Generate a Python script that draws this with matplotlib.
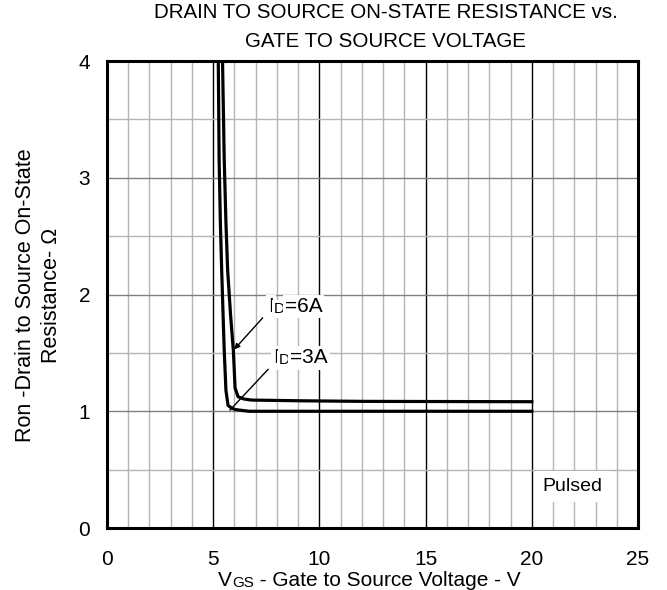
import matplotlib
matplotlib.use("Agg")
import matplotlib.pyplot as plt
from matplotlib.ticker import MultipleLocator

plt.rcParams["font.family"] = ["Liberation Sans", "DejaVu Sans"]

vgs_3a = [5.24, 5.28, 5.34, 5.40, 5.47, 5.52, 5.60, 5.70, 5.85, 6.03, 6.7, 8.0, 10.0, 15.0, 20.0]
ron_3a = [4.0, 3.15, 2.60, 2.21, 1.80, 1.52, 1.18, 1.05, 1.03, 1.015, 1.0, 1.0, 1.0, 1.0, 1.0]
vgs_6a = [5.44, 5.52, 5.60, 5.68, 5.82, 5.95, 6.03, 6.17, 6.45, 6.8, 9.1, 12.0, 20.0]
ron_6a = [4.0, 3.15, 2.62, 2.21, 1.82, 1.52, 1.20, 1.125, 1.105, 1.096, 1.09, 1.085, 1.082]

xticks = [0, 5, 10, 15, 20, 25]
yticks = [0, 1, 2, 3, 4]

fig = plt.figure(figsize=(6.67, 5.9), dpi=100)
ax = fig.add_axes([0.1604, 0.105, 0.7961, 0.7916])

ax.set_xlim(0, 25)
ax.set_ylim(0, 4)
ax.set_xticks(xticks)
ax.set_yticks(yticks)
ax.xaxis.set_minor_locator(MultipleLocator(1))
ax.yaxis.set_minor_locator(MultipleLocator(0.5))
ax.grid(which="minor", color="#b4b4b4", lw=1.0)
ax.grid(which="major", axis="x", color="black", lw=1.0)
ax.grid(which="major", axis="y", color="#808080", lw=1.0)
ax.set_axisbelow(True)
ax.tick_params(which="both", length=0)
ax.tick_params(axis="x", pad=16, labelsize=15)
ax.tick_params(axis="y", pad=12, labelsize=15)
for s in ax.spines.values():
    s.set_linewidth(2.2)

ax.plot(vgs_3a, ron_3a, color="black", lw=2.3)
ax.plot(vgs_6a, ron_6a, color="black", lw=2.3)

wbox = dict(facecolor="white", edgecolor="none", pad=1.5)


def id_label(x, y, cur):
    # I + small D + rest, each on a white patch
    t1 = ax.text(x, y, "I", fontsize=15, ha="left", va="baseline", bbox=wbox)
    t2 = ax.annotate("D", xy=(1, 0), xycoords=t1, fontsize=11, va="bottom",
                     bbox=wbox)
    ax.annotate("=" + cur, xy=(1, 0), xycoords=t2, fontsize=15, va="bottom",
                bbox=wbox)


id_label(7.58, 1.85, "6A")
id_label(7.82, 1.41, "3A")
ax.annotate("", xy=(5.99, 1.53), xytext=(7.33, 1.80),
            arrowprops=dict(arrowstyle="-|>", color="black", lw=1,
                            mutation_scale=8, shrinkA=0, shrinkB=0))
ax.annotate("", xy=(5.79, 1.01), xytext=(7.59, 1.36),
            arrowprops=dict(arrowstyle="-", color="black", lw=1,
                            shrinkA=0, shrinkB=0))

ax.text(21.92, 0.355, "Pulsed", fontsize=14, ha="center", va="center",
        bbox=dict(facecolor="white", edgecolor="none", pad=5))

fig.text(0.578, 0.978, "DRAIN TO SOURCE ON-STATE RESISTANCE vs.",
         fontsize=14.8, ha="center", va="center")
fig.text(0.578, 0.929, "GATE TO SOURCE VOLTAGE",
         fontsize=14.8, ha="center", va="center")

fig.text(0.058, 0.5, "Ron -Drain to Source On-State\nResistance- \u03a9",
         fontsize=15.5, ha="center", va="center", rotation=90,
         multialignment="center", linespacing=1.35)

tx = fig.text(0.327, 0.006, "V", fontsize=15, ha="left", va="baseline")
tg = plt.annotate("GS", xy=(1, 0), xycoords=tx, fontsize=11, va="bottom",
                  annotation_clip=False)
plt.annotate(" - Gate to Source Voltage - V", xy=(1, 0), xycoords=tg,
             fontsize=15, va="bottom", annotation_clip=False)

fig.savefig("out.png", dpi=100)
